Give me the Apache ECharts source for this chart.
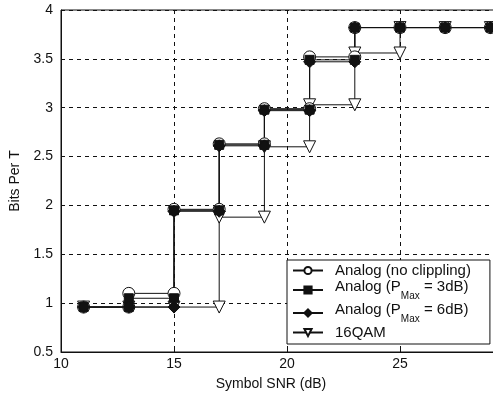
<!DOCTYPE html>
<html>
<head>
<meta charset="utf-8">
<script src="https://cdn.jsdelivr.net/npm/echarts@6/dist/echarts.min.js"></script>
<style>
  html, body { margin: 0; padding: 0; background: #fff; overflow: hidden; }
  #chart { width: 493px; height: 396px; }
</style>
</head>
<body>
<div id="chart"></div>
<script>
// Symbol SNR (dB) at which each rate step is evaluated
const snr = [11, 13, 15, 17, 19, 21, 23, 25, 27, 29];

// Bits per symbol period reached at each SNR
const noClip = [0.96, 1.10, 1.96, 2.63, 2.99, 3.52, 3.82, 3.82, 3.82, 3.82];
const pMax3  = [0.96, 1.05, 1.95, 2.62, 2.98, 3.49, 3.82, 3.82, 3.82, 3.82];
const pMax6  = [0.96, 0.96, 1.94, 2.61, 2.97, 3.47, 3.82, 3.82, 3.82, 3.82];
const qam16  = [0.96, 0.96, 0.96, 1.88, 2.60, 3.03, 3.56, 3.82, 3.82, 3.82];

const seriesNames = [
  'Analog (no clippling)',
  'Analog (P3)',
  'Analog (P6)',
  '16QAM'
];

const xTicks = [10, 15, 20, 25, 30];
const yTicks = [0.5, 1, 1.5, 2, 2.5, 3, 3.5, 4];

// Staircase vertices: at each SNR the curve holds the previous level, then jumps
function stairs(levels) {
  const pts = [[snr[0], levels[0]]];
  for (let i = 1; i < snr.length; i++) {
    pts.push([snr[i], levels[i - 1]]);
    if (levels[i] !== levels[i - 1]) pts.push([snr[i], levels[i]]);
  }
  return pts;
}

const font = 'Liberation Sans, Arial, sans-serif';
const ink = '#111';

function lineSeries(name, levels, symbol, size, filled, rotate) {
  return {
    name: name,
    type: 'line',
    data: stairs(levels),
    symbol: symbol,
    symbolSize: size,
    symbolRotate: rotate || 0,
    showAllSymbol: true,
    lineStyle: { color: ink, width: 1 },
    itemStyle: {
      color: filled ? ink : '#fff',
      borderColor: ink,
      borderWidth: 1
    },
    emphasis: { disabled: true },
    animation: false
  };
}

const chart = echarts.init(document.getElementById('chart'), null, { renderer: 'canvas' });

const legendLabels = {
  'Analog (no clippling)': '{a|Analog (no clippling)}',
  'Analog (P3)': '{b|Analog (P}{s|Max}{b| = 3dB)}',
  'Analog (P6)': '{b|Analog (P}{s|Max}{b| = 6dB)}',
  '16QAM': '{a|16QAM}'
};

chart.setOption({
  backgroundColor: '#fff',
  animation: false,
  grid: {
    left: 61, top: 10, width: 452, height: 342,
    outerBoundsMode: 'none',
    containLabel: false,
    show: true, borderColor: ink, borderWidth: 1, backgroundColor: 'transparent'
  },
  xAxis: {
    type: 'value',
    min: xTicks[0], max: xTicks[xTicks.length - 1], interval: 5,
    name: 'Symbol SNR (dB)',
    nameLocation: 'middle',
    nameGap: 25,
    nameTextStyle: { color: ink, fontFamily: font, fontSize: 14, padding: [0, 32, 0, 0] },
    axisLine: { show: true, lineStyle: { color: ink } },
    axisTick: { show: true, inside: true, length: 4, lineStyle: { color: ink } },
    axisLabel: { color: ink, fontFamily: font, fontSize: 14, margin: 5 },
    splitLine: { show: true, lineStyle: { color: ink, type: [4, 4], width: 1 } }
  },
  yAxis: {
    type: 'value',
    min: yTicks[0], max: yTicks[yTicks.length - 1], interval: 0.5,
    name: 'Bits Per T',
    nameLocation: 'middle',
    nameGap: 37,
    nameRotate: 90,
    nameTextStyle: { color: ink, fontFamily: font, fontSize: 14 },
    axisLine: { show: true, lineStyle: { color: ink } },
    axisTick: { show: true, inside: true, length: 4, lineStyle: { color: ink } },
    axisLabel: { color: ink, fontFamily: font, fontSize: 14, margin: 8 },
    splitLine: { show: true, lineStyle: { color: ink, type: [4, 4], width: 1 } }
  },
  legend: {
    orient: 'vertical',
    left: 287, top: 260,
    data: seriesNames,
    itemWidth: 30, itemHeight: 9, itemGap: 1,
    padding: [3, 19, 4, 5],
    borderColor: ink, borderWidth: 1, backgroundColor: '#fff',
    selectedMode: false,
    formatter: function (n) { return legendLabels[n]; },
    textStyle: {
      color: ink, fontFamily: font,
      padding: [0, 0, 0, 7],
      rich: {
        a: { fontSize: 15, fontFamily: font, color: ink, lineHeight: 18 },
        b: { fontSize: 15, fontFamily: font, color: ink, lineHeight: 22, verticalAlign: 'top' },
        s: { fontSize: 10, fontFamily: font, color: ink, lineHeight: 22, verticalAlign: 'bottom' }
      }
    }
  },
  series: [
    lineSeries(seriesNames[3], qam16, 'triangle', 12, false, 180),
    lineSeries(seriesNames[0], noClip, 'circle', 12, false),
    lineSeries(seriesNames[1], pMax3, 'rect', 9, true),
    lineSeries(seriesNames[2], pMax6, 'diamond', 12, true)
  ]
});
</script>
</body>
</html>
